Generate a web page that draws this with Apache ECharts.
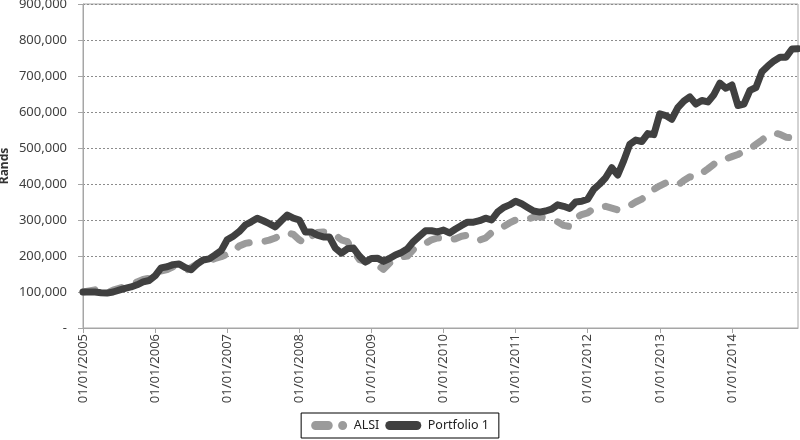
<!DOCTYPE html>
<html>
<head>
<meta charset="utf-8">
<script src="https://cdn.jsdelivr.net/npm/echarts@6/dist/echarts.min.js"></script>
<style>
  html, body { margin: 0; padding: 0; background: #fff; }
  #chart { width: 800px; height: 440px; }
</style>
</head>
<body>
<div id="chart"></div>
<script>
// monthly values, Jan 2005 - Dec 2014 (thousands of Rands)
const years = [2005, 2006, 2007, 2008, 2009, 2010, 2011, 2012, 2013, 2014]
const alsi = [
  100, 103, 106, 100, 98, 105, 110, 115, 120, 128, 135, 138,
  150, 158, 162, 170, 165, 158, 168, 178, 185, 188, 193, 198,
  205, 212, 228, 235, 238, 240, 240, 244, 250, 258, 265, 260,
  245, 235, 255, 265, 267, 264, 258, 245, 240, 215, 190, 185,
  188, 175, 163, 180, 190, 197, 200, 218, 225, 235, 245, 250,
  250, 245, 248, 255, 258, 252, 244, 250, 265, 275, 282, 292,
  300, 298, 302, 308, 310, 305, 300, 295, 285, 282, 305, 315,
  320, 332, 335, 338, 333, 328, 332, 340, 350, 358, 370, 385,
  395, 403, 398, 397, 410, 420, 418, 430, 442, 455, 467, 470,
  476, 482, 490, 498, 510, 522, 535, 542, 538, 530, 528, 532
]
const portfolio = [
  100, 100, 100, 98, 97, 100, 105, 110, 114, 120, 128, 132,
  145, 167, 170, 176, 178, 168, 162, 178, 189, 192, 203, 215,
  245, 255, 268, 286, 295, 305, 298, 290, 281, 298, 314, 305,
  300, 267, 267, 258, 253, 253, 222, 208, 220, 222, 200, 183,
  193, 194, 185, 193, 203, 210, 220, 240, 255, 270, 270, 267,
  272, 264, 275, 285, 294, 294, 298, 305, 300, 322, 335, 342,
  352, 345, 335, 325, 322, 325, 330, 342, 338, 332, 350, 352,
  358, 385, 400, 418, 445, 425, 465, 510, 522, 518, 540, 537,
  595, 590, 580, 612, 630, 642, 622, 632, 628, 648, 680, 666,
  675, 618, 622, 660, 668, 712, 728, 742, 752, 752, 775, 776
]

const months = []
years.forEach(y => {
  for (let m = 1; m <= 12; m++) {
    months.push('01/' + (m < 10 ? '0' + m : m) + '/' + y)
  }
})

const chart = echarts.init(document.getElementById('chart'))
const font = 'Noto Sans'
// legend icons: dashed (pill + dot) and solid pill
const dashIcon = 'path://M5,0 H19 A5,5 0 0 1 19,10 H5 A5,5 0 0 1 5,0 Z M35,0 A5,5 0 0 1 35,10 A5,5 0 0 1 35,0 Z'
const solidIcon = 'path://M5,0 H35 A5,5 0 0 1 35,10 H5 A5,5 0 0 1 5,0 Z'

const option = {
  animation: false,
  textStyle: { fontFamily: font },
  grid: {
    left: 83,
    right: 2,
    top: 4,
    bottom: 112,
    outerBoundsMode: 'none',
    show: true,
    borderColor: '#a6a6a6',
    borderWidth: 1
  },
  legend: {
    bottom: 2,
    left: 'center',
    itemWidth: 39,
    itemHeight: 9,
    itemGap: 6,
    padding: [6, 10, 6, 10],
    borderColor: '#000',
    borderWidth: 1,
    textStyle: { fontSize: 12.5, color: '#222', fontFamily: font },
    data: [
      { name: 'ALSI', icon: dashIcon, itemStyle: { color: '#9b9b9b' } },
      { name: 'Portfolio 1', icon: solidIcon, itemStyle: { color: '#404040' } }
    ]
  },
  xAxis: {
    type: 'category',
    data: months,
    boundaryGap: false,
    axisLine: { lineStyle: { color: '#a6a6a6', width: 1 } },
    axisTick: { show: true, interval: 11, length: 5, lineStyle: { color: '#a6a6a6' } },
    axisLabel: {
      interval: 11,
      rotate: 90,
      fontSize: 13,
      color: '#404040',
      margin: 6
    },
    splitLine: { show: false }
  },
  yAxis: {
    type: 'value',
    min: 0,
    max: 900000,
    interval: 100000,
    name: 'Rands',
    nameLocation: 'middle',
    nameGap: 72,
    nameMoveOverlap: false,
    nameTextStyle: { fontWeight: 'bold', fontSize: 12, color: '#333' },
    axisLine: { show: true, lineStyle: { color: '#a6a6a6' } },
    axisTick: { show: true, length: 5, lineStyle: { color: '#a6a6a6' } },
    axisLabel: {
      fontSize: 13,
      color: '#404040',
      margin: 16,
      formatter: v => v === 0 ? '-' : v.toLocaleString('en-US')
    },
    splitLine: { lineStyle: { color: '#8c8c8c', type: [2, 2], width: 1 } }
  },
  series: [
    {
      name: 'ALSI',
      type: 'line',
      data: alsi.map(v => v * 1000),
      symbol: 'none',
      lineStyle: { color: '#9b9b9b', width: 7, type: [12, 16], cap: 'round', join: 'round' },
      itemStyle: { color: '#9b9b9b' },
      z: 2
    },
    {
      name: 'Portfolio 1',
      type: 'line',
      data: portfolio.map(v => v * 1000),
      symbol: 'none',
      lineStyle: { color: '#404040', width: 7, cap: 'round', join: 'round' },
      itemStyle: { color: '#404040' },
      z: 3
    }
  ]
}

chart.setOption(option)
</script>
</body>
</html>
